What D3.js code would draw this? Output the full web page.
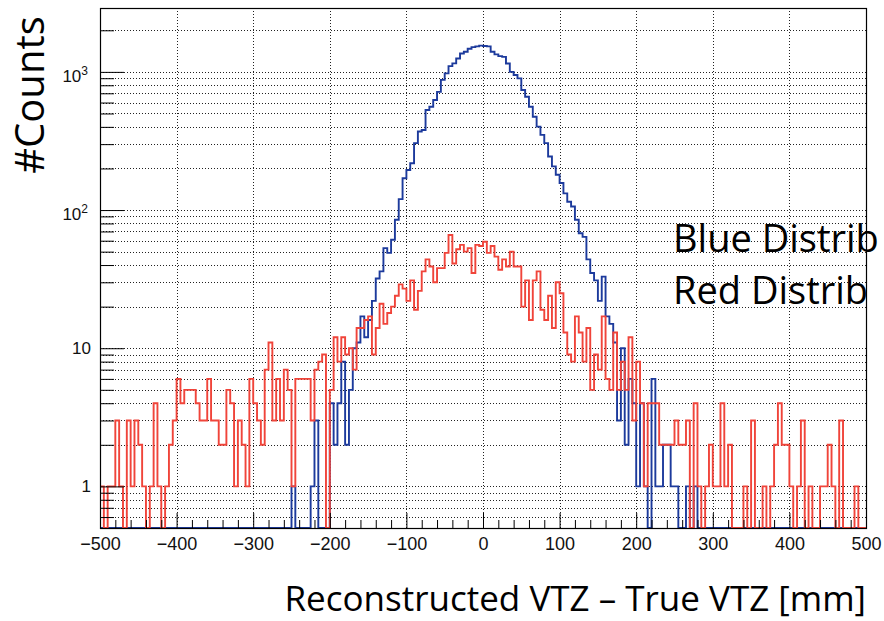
<!DOCTYPE html>
<html>
<head>
<meta charset="utf-8">
<script src="https://cdn.jsdelivr.net/npm/d3@7"></script>
<style>
  html, body { margin: 0; padding: 0; background: #fff; overflow: hidden; }
  svg { display: block; }
</style>
</head>
<body>
<div id="chart"></div>
<script>
// bins of 5 mm from -500 to 500
const binEdges = d3.range(-500, 501, 5);

const blueCounts = [
  0,0,0,0,0,0,0,0,0,0, 0,0,0,0,0,0,0,0,0,0,
  0,0,0,0,0,0,0,0,0,0, 0,0,0,0,0,0,0,0,0,0,
  0,0,0,0,0,0,0,0,0,0,
  1,0,0,0,0,1,3,0,0,0,
  4,2,4,8,2,5,10,11,17,12,
  16,22,32,36,53,49,61,85,120,170,
  195,218,305,370,380,530,560,626,717,876,
  975,1100,1152,1250,1360,1400,1470,1510,1530,1550,
  1540,1530,1400,1340,1300,1285,1150,1000,950,897,
  740,660,560,474,402,350,305,244,207,180,
  157,132,115,106,85,68,64,44,35,31,
  22,33,17,15,11,3,10,2,6,4,
  1,4,1,0,6,1,1,2,2,1,
  1,0,0,1,0,1,0,0,0,0,
  0,0,0,0,0,0,0,0,0,0, 0,0,0,0,0,0,0,0,0,0,
  0,0,0,0,0,0,0,0,0,0, 0,0,0,0,0,0,0,0,0,0
];

const redCounts = [
  1,0,1,1,3,1,0,3,1,3,
  2,1,0,1,4,1,0,1,2,3,
  6,4,5,5,5,4,3,3,6,3,
  3,2,2,5,4,1,3,2,1,6,
  4,3,2,7,11,3,6,3,7,5,
  1,6,6,6,6,3,7,8,9,0,
  5,12,8,12,9,10,7,14,14,16,
  17,9,14,21,15,18,20,24,29,27,
  22,31,19,26,36,44,39,30,38,38,
  49,66,41,52,56,50,53,35,56,55,
  59,49,55,46,37,44,39,50,39,39,
  20,31,16,31,36,19,16,24,14,30,
  25,13,9,8,17,13,8,14,5,9,
  7,17,6,5,13,5,8,5,12,3,
  8,4,1,4,4,4,2,2,2,2,
  3,2,2,3,0,4,1,0,1,2,
  1,1,4,1,2,0,0,0,1,0,
  3,0,0,1,0,1,2,4,2,2,
  1,0,1,3,0,1,0,0,1,1,
  2,1,0,3,0,0,0,1,0,0
];

const xMajorTicks = [-500, -400, -300, -200, -100, 0, 100, 200, 300, 400, 500];
const xGridTicks = [-400, -300, -200, -100, 0, 100, 200, 300, 400];
const yMajorTicks = [1, 10, 100, 1000];
const yMajorLabels = [["1", ""], ["10", ""], ["10", "2"], ["10", "3"]];
const yMinorTicks = [0.6, 0.7, 0.8, 0.9, 2, 3, 4, 5, 6, 7, 8, 9,
  20, 30, 40, 50, 60, 70, 80, 90, 200, 300, 400, 500, 600, 700, 800, 900, 2000];
const legendLabels = ["Blue Distrib", "Red Distrib"];

const W = 884, H = 621;
const plot = { left: 100, right: 866, top: 8, bottom: 528 };

const svg = d3.select("#chart").append("svg")
  .attr("width", W).attr("height", H)
  .style("font-family", "'Liberation Sans', Arial, sans-serif");

const x = d3.scaleLinear().domain([-500, 500]).range([plot.left, plot.right]);
const y = d3.scaleLog().domain([0.5, 2900]).range([plot.bottom, plot.top]).clamp(true);

// dotted grid
const grid = svg.append("g").attr("class", "grid")
  .attr("stroke", "#222").attr("stroke-width", 1).attr("stroke-dasharray", "1,2");
grid.selectAll(".gx").data(xGridTicks).enter().append("line")
  .attr("x1", d => Math.round(x(d)) + 0.5).attr("x2", d => Math.round(x(d)) + 0.5)
  .attr("y1", plot.top).attr("y2", plot.bottom);
grid.selectAll(".gy").data(yMajorTicks.concat(yMinorTicks)).enter().append("line")
  .attr("x1", plot.left).attr("x2", plot.right)
  .attr("y1", d => Math.round(y(d)) + 0.5).attr("y2", d => Math.round(y(d)) + 0.5);

// histograms
svg.append("clipPath").attr("id", "clip").append("rect")
  .attr("x", plot.left).attr("y", plot.top)
  .attr("width", plot.right - plot.left).attr("height", plot.bottom - plot.top);

const step = d3.line()
  .x(d => x(d[0]))
  .y(d => y(Math.max(d[1], 0.3)))
  .curve(d3.curveStepAfter);

function histPoints(counts) {
  const pts = counts.map((c, i) => [binEdges[i], c]);
  pts.push([binEdges[counts.length], counts[counts.length - 1]]);
  return pts;
}

svg.append("path")
  .datum(histPoints(blueCounts))
  .attr("clip-path", "url(#clip)")
  .attr("fill", "none")
  .attr("stroke", "#1c3a9c")
  .attr("stroke-width", 1.9)
  .attr("d", step);

svg.append("path")
  .datum(histPoints(redCounts))
  .attr("clip-path", "url(#clip)")
  .attr("fill", "none")
  .attr("stroke", "#f0443a")
  .attr("stroke-width", 1.9)
  .attr("d", step);

// x axis: ticks inside the frame
const xMinor = d3.range(-500, 501, 20).filter(v => v % 100 !== 0);
svg.append("g")
  .attr("transform", `translate(0,${plot.bottom})`)
  .call(d3.axisBottom(x).tickValues(xMinor).tickSize(-8).tickFormat(""))
  .call(g => g.select(".domain").remove());

const xAxis = svg.append("g")
  .attr("transform", `translate(0,${plot.bottom})`)
  .call(d3.axisBottom(x).tickValues(xMajorTicks).tickSize(-15).tickPadding(9)
    .tickFormat(d => d < 0 ? "\u2212" + Math.abs(d) : d));
xAxis.select(".domain").remove();
xAxis.selectAll("text").attr("font-size", 18).attr("fill", "#111")
  .attr("font-family", "'Liberation Sans', Arial, sans-serif");

// y axis
svg.append("g")
  .attr("transform", `translate(${plot.left},0)`)
  .call(d3.axisLeft(y).tickValues(yMinorTicks).tickSize(-14).tickFormat(""))
  .call(g => g.select(".domain").remove());

const yAxis = svg.append("g")
  .attr("transform", `translate(${plot.left},0)`)
  .call(d3.axisLeft(y).tickValues(yMajorTicks).tickSize(-24).tickFormat(""));
yAxis.select(".domain").remove();

const yLab = svg.append("g").attr("font-size", 17).attr("fill", "#111");
yMajorTicks.forEach((v, i) => {
  const [base, pow] = yMajorLabels[i];
  const t = yLab.append("text").attr("text-anchor", "end");
  if (pow) {
    t.attr("x", 88).attr("y", y(v) + 10);
    t.append("tspan").text(base);
    t.append("tspan").attr("font-size", 12).attr("dy", -7).text(pow);
  } else {
    t.attr("x", 91).attr("y", y(v) + 6).text(base);
  }
});

// titles
svg.append("text")
  .attr("transform", "translate(44,95) rotate(-90)")
  .attr("text-anchor", "middle")
  .style("font-family", "'Open Sans', sans-serif")
  .style("font-size", "40px")
  .text("#Counts");

svg.append("text")
  .attr("x", 866).attr("y", 611)
  .attr("text-anchor", "end")
  .style("font-family", "'Open Sans', sans-serif")
  .style("font-size", "35px")
  .text("Reconstructed VTZ \u2013 True VTZ [mm]");

svg.append("text")
  .attr("x", 673).attr("y", 252)
  .style("font-family", "'Open Sans', sans-serif")
  .style("font-size", "38px")
  .text(legendLabels[0]);

svg.append("text")
  .attr("x", 673).attr("y", 304)
  .style("font-family", "'Open Sans', sans-serif")
  .style("font-size", "38px")
  .text(legendLabels[1]);

// frame
svg.append("rect")
  .attr("x", plot.left + 0.5).attr("y", plot.top + 0.5)
  .attr("width", plot.right - plot.left).attr("height", plot.bottom - plot.top)
  .attr("fill", "none").attr("stroke", "#000").attr("stroke-width", 1.2);
</script>
</body>
</html>
